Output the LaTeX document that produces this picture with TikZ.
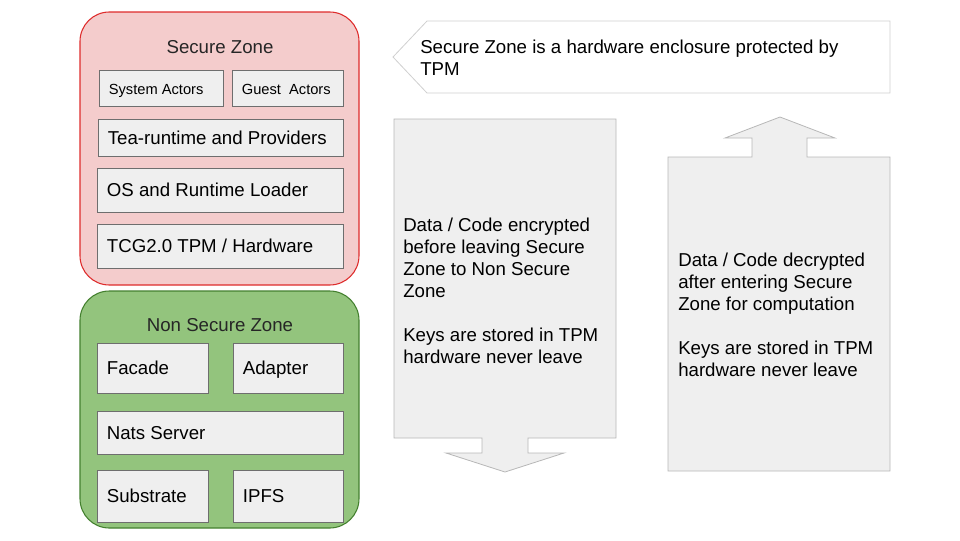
\documentclass[tikz,border=0pt]{standalone}
\usepackage{fontspec}
\setmainfont{Liberation Sans}
\usetikzlibrary{fit,calc}

\definecolor{szfill}{HTML}{F4CCCC}
\definecolor{szline}{HTML}{DE2C2C}
\definecolor{nzfill}{HTML}{93C47D}
\definecolor{nzline}{HTML}{44802F}
\definecolor{cellfill}{HTML}{EFEFEF}
\definecolor{cellline}{HTML}{6E6E6E}
\definecolor{flowline}{HTML}{B7B7B7}
\definecolor{noteline}{HTML}{D0D0D0}

\begin{document}
\begin{tikzpicture}[x=0.75pt,y=-0.75pt,
  zone/.style={rounded corners=22pt, inner sep=0pt, line width=0.8pt},
  securezone/.style={zone, draw=szline, fill=szfill},
  openzone/.style={zone, draw=nzline, fill=nzfill},
  cell/.style={draw=cellline, fill=cellfill, inner sep=0pt, line width=0.6pt},
  celltext/.style={anchor=west, inner sep=0pt, text height=1.04em, text depth=0pt,
                   font=\fontsize{14}{16.5}\selectfont},
  smalltext/.style={celltext, font=\fontsize{11}{13}\selectfont},
  title/.style={inner sep=0pt, text height=1.1em, text depth=0pt,
                font=\fontsize{14}{16.5}\selectfont, text=black!85},
  flow/.style={draw=flowline, fill=cellfill, line width=0.6pt},
  note/.style={draw=noteline, fill=white, line width=0.6pt},
  para/.style={anchor=north west, inner sep=0pt, align=left,
               font=\fontsize{14}{16.5}\selectfont},
]
\useasboundingbox (0,0) rectangle (960,540);

% ---------- secure zone ----------
\node[securezone, fit={(80,12) (359,285)}] (secure) {};
\node[title] (securetitle) at (220,46) {Secure Zone};

\node[cell, fit={(99,70) (223,106)}] (sysact) {};
\node[smalltext] at ([xshift=7.5pt]sysact.west) {System Actors};
\node[cell, fit={(232,70) (343,106)}] (guestact) {};
\node[smalltext] at ([xshift=7.5pt]guestact.west) {Guest\ \ Actors};

\node[cell, fit={(98,119) (343,156)}] (tea) {};
\node[celltext] at ([xshift=7.5pt]tea.west) {Tea-runtime and Providers};
\node[cell, fit={(97,168) (343,212)}] (osload) {};
\node[celltext] at ([xshift=7.5pt]osload.west) {OS and Runtime Loader};
\node[cell, fit={(97,224) (343,268)}] (tpm) {};
\node[celltext] at ([xshift=7.5pt]tpm.west) {TCG2.0 TPM / Hardware};

% ---------- non secure zone ----------
\node[openzone, fit={(80,291) (359,528)}] (open) {};
\node[title] (opentitle) at (220,324) {Non Secure Zone};

\node[cell, fit={(97,343) (208,393)}] (facade) {};
\node[celltext] at ([xshift=7.5pt]facade.west) {Facade};
\node[cell, fit={(233,343) (343,393)}] (adapter) {};
\node[celltext] at ([xshift=7.5pt]adapter.west) {Adapter};
\node[cell, fit={(97,411) (343,454)}] (nats) {};
\node[celltext] at ([xshift=7.5pt]nats.west) {Nats Server};
\node[cell, fit={(97,470) (208,522)}] (substrate) {};
\node[celltext] at ([xshift=7.5pt]substrate.west) {Substrate};
\node[cell, fit={(233,470) (343,522)}] (ipfs) {};
\node[celltext] at ([xshift=7.5pt]ipfs.west) {IPFS};

% ---------- note pointing at the zones ----------
\draw[note] (393,57) -- (427,21) -- (890,21) -- (890,93) -- (427,93) -- cycle;
\node[para] (notetext) at (420,40)
  {Secure Zone is a hardware enclosure protected by\\TPM};

% ---------- outgoing data (down arrow) ----------
\draw[flow] (394,119) -- (616,119) -- (616,438) -- (528,438) -- (528,453)
  -- (564,453) -- (505,472) -- (446,453) -- (482,453) -- (482,438)
  -- (394,438) -- cycle;
\node[para] (outtext) at (403,217.5)
  {Data / Code encrypted\\before leaving Secure\\Zone to Non Secure\\Zone\\[16.5pt]
   Keys are stored in TPM\\hardware never leave};

% ---------- incoming data (up arrow) ----------
\draw[flow] (668,157) -- (752,157) -- (752,138) -- (725,138) -- (780,117)
  -- (835,138) -- (807,138) -- (807,157) -- (890,157) -- (890,471)
  -- (668,471) -- cycle;
\node[para] (intext) at (678,253)
  {Data / Code decrypted\\after entering Secure\\Zone for computation\\[16.5pt]
   Keys are stored in TPM\\hardware never leave};
\end{tikzpicture}
\end{document}
